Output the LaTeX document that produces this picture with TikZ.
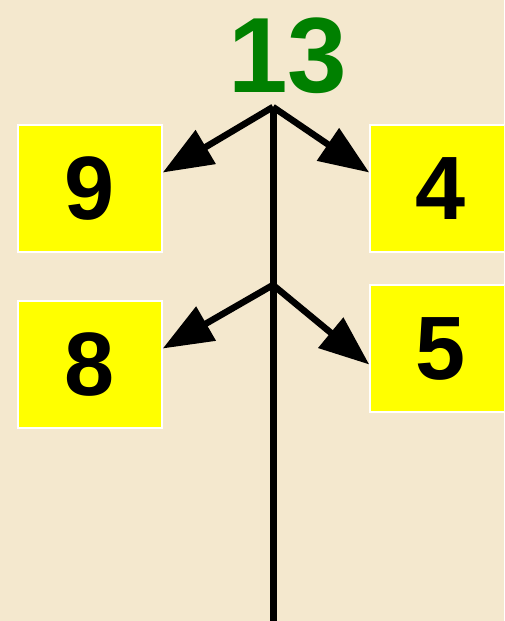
\documentclass[tikz,border=0pt]{standalone}
\usepackage{fontspec}
\setmainfont{Liberation Sans}
\usetikzlibrary{positioning, arrows.meta}
\definecolor{paper}{RGB}{244,232,206}
\definecolor{numgreen}{RGB}{0,128,0}
\definecolor{boxyellow}{RGB}{255,255,0}
\begin{document}
\begin{tikzpicture}[
  x=1pt, y=-1pt,
  numbox/.style={draw=white, line width=1.5pt, fill=boxyellow, minimum width=144pt,
                 minimum height=127pt, inner sep=0pt,
                 font=\fontsize{90}{90}\selectfont\bfseries},
  stem/.style={line width=7pt, black},
  branch/.style={-{Triangle[length=50pt, width=38pt]}, line width=6.5pt, black},
]
  % --- background and frame ---
  \fill[paper] (0,0) rectangle (504,621);
  \useasboundingbox (0,0) rectangle (504,621);
  \clip (0,0) rectangle (504,621);

  % --- whole ---
  \node[numgreen, font=\fontsize{107}{107}\selectfont\bfseries, anchor=base, inner sep=0pt]
    (whole) at (288,92) {13};

  % --- stem ---
  \coordinate (top) at (273,107);
  \coordinate (fork) at (273,285);
  \coordinate (foot) at (273,621);
  \draw[stem] (top) -- (foot);

  % --- parts ---
  \node[numbox] (b9) at (90,188.5) {9};
  \node[numbox, minimum width=142pt] (b4) at (441,188.5) {4};
  \node[numbox] (b8) at (90,364.5) {8};
  \node[numbox, minimum width=142pt] (b5) at (441,348.5) {5};

  % --- branches ---
  \draw[branch] (top) -- ([yshift=16pt]b9.east);
  \draw[branch] (top) -- ([yshift=16pt]b4.west);
  \draw[branch] (fork) -- ([yshift=16pt]b8.east);
  \draw[branch] (fork) -- ([yshift=-16pt]b5.west);
\end{tikzpicture}
\end{document}
